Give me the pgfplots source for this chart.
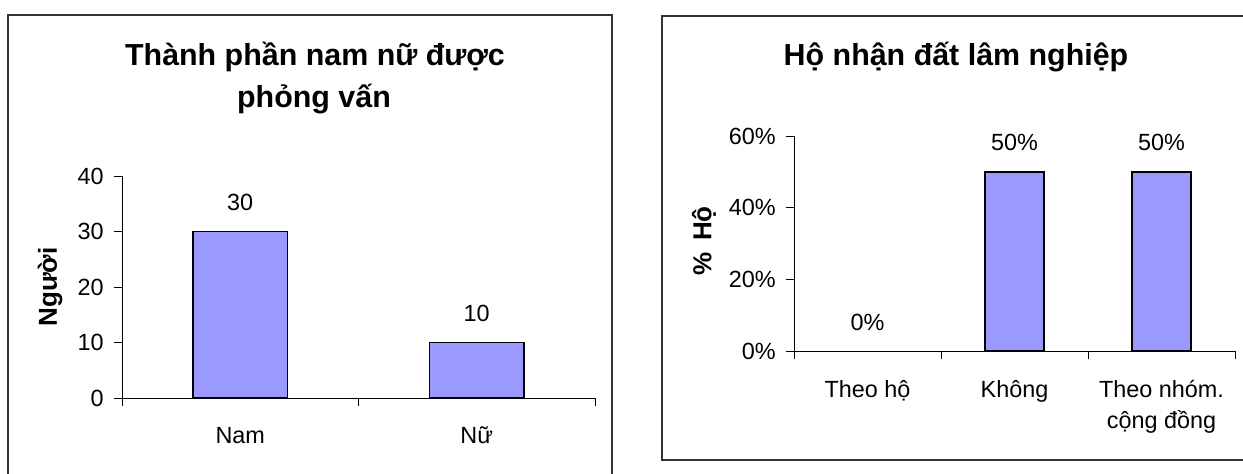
\documentclass[border=0pt]{standalone}
\usepackage{fontspec}
\setmainfont{Liberation Sans}
\usepackage{pgfplots}
\pgfplotsset{compat=1.18}
\definecolor{barblue}{HTML}{9999FF}
\definecolor{framegray}{HTML}{333333}
\newcommand{\tickfont}{\fontsize{11.7}{15.5}\selectfont}
\pgfplotsset{
  mybars/.style={
    scale only axis,
    axis x line*=bottom, axis y line*=left,
    axis line style={black, line width=0.5pt},
    tick align=outside,
    tick style={black, line width=0.5pt},
    y tick label style={font=\tickfont, anchor=east, inner sep=0pt, xshift=-5pt},
    x tick label style={font=\tickfont, anchor=north, inner sep=0pt, align=center},
    major tick length=4pt,
    minor tick length=4pt,
    major x tick style={draw=none},
    /pgf/number format/assume math mode=true,
    ybar, bar width=0.4, bar shift=0pt,
    nodes near coords,
    nodes near coords style={font=\tickfont, anchor=south, inner sep=0pt, yshift=10pt},
    clip=false,
  }
}
\begin{document}
\begin{tikzpicture}
\useasboundingbox (0,0) rectangle (621.5pt,236.5pt);
\draw[framegray, line width=0.8pt] (4pt,229pt) rectangle (306pt,-2pt);
\draw[framegray, line width=0.8pt] (331pt,228.5pt) rectangle (626pt,6.5pt);

% Left chart
\begin{axis}[mybars,
  at={(61pt,37.5pt)}, anchor=south west,
  width=236.5pt, height=111pt,
  xmin=-0.5, xmax=1.5, ymin=0, ymax=40,
  ytick={0,10,20,30,40},
  xtick={0,1}, xticklabels={Nam,Nữ},
  minor xtick={-0.5,0.5,1.5},
  x tick label style={text height=8.4pt, yshift=-10pt},
]
\addplot[fill=barblue, draw=black, line width=0.75pt] coordinates {(0,30) (1,10)};
\end{axis}
\node[font=\fontsize{15.2}{21}\selectfont\bfseries, anchor=base] at (157.5pt,204pt) {Thành phần nam nữ được};
\node[font=\fontsize{15.2}{21}\selectfont\bfseries, anchor=base] at (157pt,183pt) {phỏng vấn};
\node[font=\fontsize{13}{15}\selectfont\bfseries, rotate=90] at (25pt,93pt) {Người};

% Right chart
\begin{axis}[mybars,
  at={(397pt,61pt)}, anchor=south west,
  width=220.5pt, height=107.5pt,
  xmin=-0.5, xmax=2.5, ymin=0, ymax=60,
  ytick={0,20,40,60},
  yticklabel={\pgfmathprintnumber{\tick}\%},
  xtick={0,1,2}, xticklabels={Theo hộ,Không,{Theo nhóm.\\cộng đồng}},
  minor xtick={-0.5,0.5,1.5,2.5},
  x tick label style={yshift=-10.5pt},
  nodes near coords={\pgfmathprintnumber{\pgfplotspointmeta}\%},
]
\addplot[draw=none, fill=none] coordinates {(0,0)};
\addplot[fill=barblue, draw=black, line width=0.75pt] coordinates {(1,50) (2,50)};
\end{axis}
\node[font=\fontsize{15.2}{21}\selectfont\bfseries, anchor=base] at (478pt,204pt) {Hộ nhận đất lâm nghiệp};
\node[font=\fontsize{13}{15}\selectfont\bfseries, rotate=90] at (352pt,116pt) {\%\hspace{0.45em}Hộ};
\end{tikzpicture}
\end{document}
